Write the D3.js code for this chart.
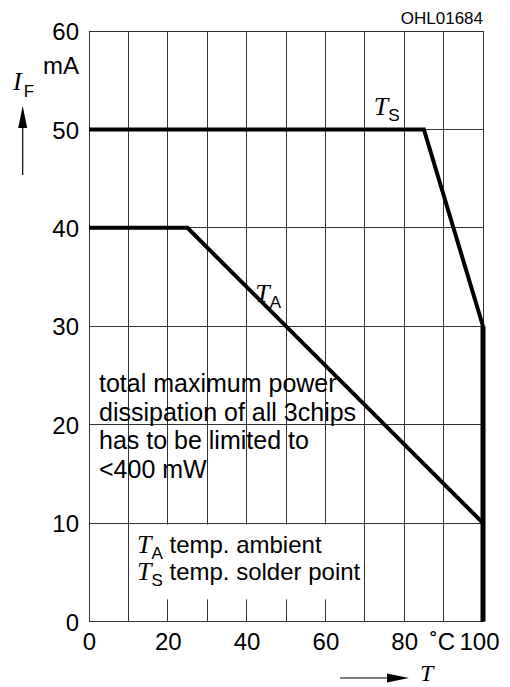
<!DOCTYPE html>
<html>
<head>
<meta charset="utf-8">
<script src="https://cdn.jsdelivr.net/npm/d3@7"></script>
<style>
  html, body { margin: 0; padding: 0; background: #fff; }
  svg { display: block; }
  text { font-family: "Liberation Sans", Arial, sans-serif; fill: #000; }
  .it { font-family: "Liberation Serif", "Times New Roman", serif; font-style: italic; }
</style>
</head>
<body>
<div id="chart"></div>
<script>
// axis ticks
const xTicks = [0, 20, 40, 60, 80, 100];
const yTicks = [0, 10, 20, 30, 40, 50, 60];
const gridSteps = [0, 10, 20, 30, 40, 50, 60, 70, 80, 90, 100];

// T_S curve (solder point)
const tsTemp = [0, 85, 100];
const tsCurrent = [50, 50, 30];
// T_A curve (ambient)
const taTemp = [0, 25, 100];
const taCurrent = [40, 40, 10];
// both curves drop to zero at 100 °C
const cutTemp = [100, 100];
const cutCurrent = [30, 0];

const noteLines = ['total maximum power', 'dissipation of all 3chips', 'has to be limited to', '<400 mW'];

const width = 510, height = 687;
const svg = d3.select('#chart').append('svg')
  .attr('width', width)
  .attr('height', height);

const x = d3.scaleLinear().domain([0, 100]).range([89, 483]);
const y = d3.scaleLinear().domain([0, 60]).range([621.5, 31]);

// grid
const grid = svg.append('g')
  .attr('stroke', '#333')
  .attr('stroke-width', 1)
  .attr('shape-rendering', 'crispEdges');

grid.selectAll('.vx')
  .data(gridSteps)
  .enter().append('line')
  .attr('x1', d => x(d)).attr('x2', d => x(d))
  .attr('y1', y(0)).attr('y2', y(60));

grid.selectAll('.hy')
  .data(yTicks)
  .enter().append('line')
  .attr('x1', x(0)).attr('x2', x(100))
  .attr('y1', d => y(d)).attr('y2', d => y(d));

// white box behind the legend
svg.append('rect')
  .attr('x', x(10) + 1.5)
  .attr('y', y(10) + 1.5)
  .attr('width', x(68) - x(10))
  .attr('height', y(2.4) - y(10))
  .attr('fill', '#fff');

// curves
const line = d3.line()
  .x(d => x(d[0]))
  .y(d => y(d[1]));

svg.append('path')
  .datum(d3.zip(taTemp, taCurrent))
  .attr('fill', 'none')
  .attr('stroke', '#000')
  .attr('stroke-width', 4)
  .attr('d', line);

svg.append('path')
  .datum(d3.zip(tsTemp, tsCurrent))
  .attr('fill', 'none')
  .attr('stroke', '#000')
  .attr('stroke-width', 4)
  .attr('d', line);

svg.append('path')
  .datum(d3.zip(cutTemp, cutCurrent))
  .attr('fill', 'none')
  .attr('stroke', '#000')
  .attr('stroke-width', 5)
  .attr('d', line);

// y axis labels
const yAxis = svg.append('g')
  .attr('transform', `translate(${x(0) - 10},0)`)
  .call(d3.axisLeft(y).tickValues(yTicks).tickSize(0).tickPadding(0));
yAxis.select('.domain').remove();
yAxis.selectAll('text')
  .attr('font-size', 24)
  .attr('font-family', '"Liberation Sans", Arial, sans-serif')
  .attr('fill', '#000')
  .attr('dy', '0.36em');

// x axis labels
const xAxis = svg.append('g')
  .attr('transform', `translate(0,${y(0)})`)
  .call(d3.axisBottom(x).tickValues(xTicks).tickSize(0).tickPadding(0));
xAxis.select('.domain').remove();
xAxis.selectAll('text')
  .attr('font-size', 24)
  .attr('font-family', '"Liberation Sans", Arial, sans-serif')
  .attr('fill', '#000')
  .attr('dy', 28.5)
  .attr('y', 0)
  .attr('dx', d => d === 100 ? -4 : 0);

svg.append('text')
  .attr('x', x(100) - 28)
  .attr('y', y(0) + 28.5)
  .attr('text-anchor', 'end')
  .attr('font-size', 24)
  .text('˚C');

svg.append('text')
  .attr('x', x(0) - 10)
  .attr('y', 74)
  .attr('text-anchor', 'end')
  .attr('font-size', 24)
  .text('mA');

svg.append('text')
  .attr('x', x(100))
  .attr('y', 24)
  .attr('text-anchor', 'end')
  .attr('font-size', 17)
  .text('OHL01684');

// I_F axis title with arrow
const yt = svg.append('text').attr('x', 13).attr('y', 90);
yt.append('tspan').attr('class', 'it').attr('font-size', 26).text('I');
yt.append('tspan').attr('font-size', 17).attr('dx', 2).attr('dy', 7).text('F');

const arrowX = 22.7;
svg.append('line')
  .attr('x1', arrowX).attr('x2', arrowX)
  .attr('y1', 175).attr('y2', 124)
  .attr('stroke', '#000').attr('stroke-width', 1.2);
svg.append('path')
  .attr('d', `M${arrowX - 4.5},128 L${arrowX},106 L${arrowX + 4.5},128 Z`)
  .attr('fill', '#000');

// T axis title with arrow
svg.append('line')
  .attr('x1', 340).attr('x2', 392)
  .attr('y1', 678).attr('y2', 678)
  .attr('stroke', '#000').attr('stroke-width', 1.2);
svg.append('path')
  .attr('d', 'M387,673.5 L409,678 L387,682.5 Z')
  .attr('fill', '#000');
svg.append('text')
  .attr('class', 'it')
  .attr('x', 420)
  .attr('y', 681)
  .attr('font-size', 24)
  .text('T');

// curve labels
function subLabel(px, py, sub) {
  const t = svg.append('text').attr('x', px).attr('y', py);
  t.append('tspan').attr('class', 'it').attr('font-size', 26).text('T');
  t.append('tspan').attr('font-size', 17).attr('dx', 0).attr('dy', 6).text(sub);
  return t;
}
subLabel(x(72.3), y(51.5) + 0.5, 'S');
subLabel(x(42.2), y(32.5), 'A');

// note
svg.append('g').selectAll('text')
  .data(noteLines)
  .enter().append('text')
  .attr('x', 99)
  .attr('y', (d, i) => 392 + i * 28.5)
  .attr('font-size', 25)
  .text(d => d);

// legend
const leg1 = subLabel(137, 553, 'A');
leg1.append('tspan').attr('font-size', 24).attr('dy', -6).text(' temp. ambient');
const leg2 = subLabel(137, 580, 'S');
leg2.append('tspan').attr('font-size', 24).attr('dy', -6).text(' temp. solder point');
</script>
</body>
</html>
